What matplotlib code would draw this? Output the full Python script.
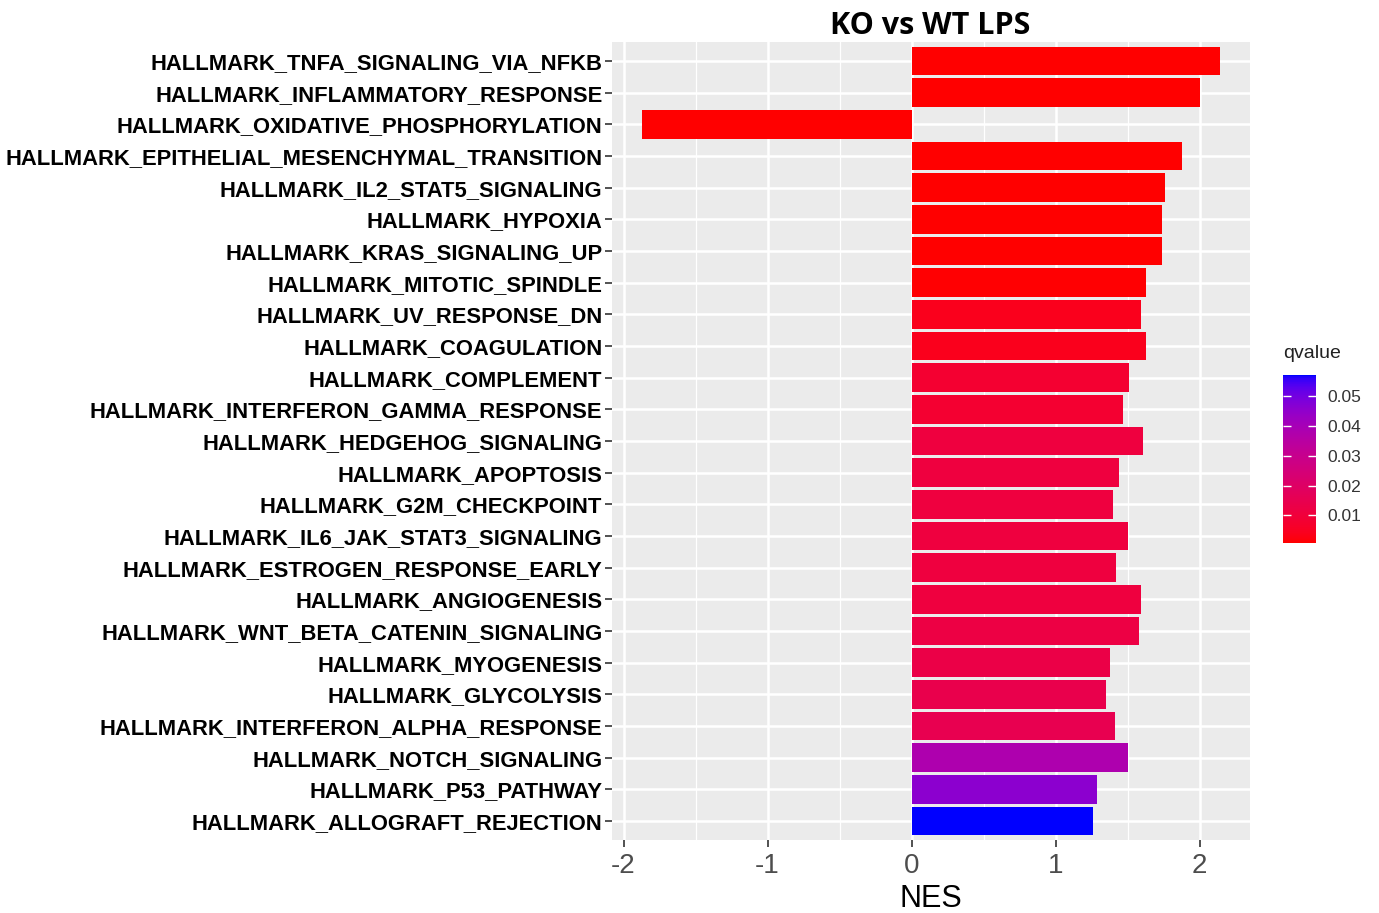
import numpy as np
import matplotlib
matplotlib.use("Agg")
import matplotlib.pyplot as plt
from matplotlib.colors import ListedColormap, Normalize
from matplotlib.cm import ScalarMappable

pathways = [
    "HALLMARK_TNFA_SIGNALING_VIA_NFKB",
    "HALLMARK_INFLAMMATORY_RESPONSE",
    "HALLMARK_OXIDATIVE_PHOSPHORYLATION",
    "HALLMARK_EPITHELIAL_MESENCHYMAL_TRANSITION",
    "HALLMARK_IL2_STAT5_SIGNALING",
    "HALLMARK_HYPOXIA",
    "HALLMARK_KRAS_SIGNALING_UP",
    "HALLMARK_MITOTIC_SPINDLE",
    "HALLMARK_UV_RESPONSE_DN",
    "HALLMARK_COAGULATION",
    "HALLMARK_COMPLEMENT",
    "HALLMARK_INTERFERON_GAMMA_RESPONSE",
    "HALLMARK_HEDGEHOG_SIGNALING",
    "HALLMARK_APOPTOSIS",
    "HALLMARK_G2M_CHECKPOINT",
    "HALLMARK_IL6_JAK_STAT3_SIGNALING",
    "HALLMARK_ESTROGEN_RESPONSE_EARLY",
    "HALLMARK_ANGIOGENESIS",
    "HALLMARK_WNT_BETA_CATENIN_SIGNALING",
    "HALLMARK_MYOGENESIS",
    "HALLMARK_GLYCOLYSIS",
    "HALLMARK_INTERFERON_ALPHA_RESPONSE",
    "HALLMARK_NOTCH_SIGNALING",
    "HALLMARK_P53_PATHWAY",
    "HALLMARK_ALLOGRAFT_REJECTION",
]
nes = [2.14, 2.00, -1.87, 1.88, 1.76, 1.74, 1.74, 1.63, 1.59, 1.63,
       1.51, 1.47, 1.61, 1.44, 1.40, 1.50, 1.42, 1.59, 1.58, 1.38,
       1.35, 1.41, 1.50, 1.29, 1.26]
qvalue = [0.0008, 0.0008, 0.0008, 0.0008, 0.0008, 0.0008, 0.0010, 0.0012, 0.004, 0.004,
          0.008, 0.008, 0.011, 0.011, 0.011, 0.011, 0.011, 0.011, 0.012, 0.013,
          0.014, 0.015, 0.038, 0.046, 0.057]
q_ticks = [0.01, 0.02, 0.03, 0.04, 0.05]
x_ticks = [-2, -1, 0, 1, 2]


# --- ggplot-like red->blue gradient interpolated in CIE Lab ---
def srgb_to_lab(rgb):
    rgb = np.asarray(rgb, float)
    lin = np.where(rgb <= 0.04045, rgb / 12.92, ((rgb + 0.055) / 1.055) ** 2.4)
    M = np.array([[0.4124, 0.3576, 0.1805],
                  [0.2126, 0.7152, 0.0722],
                  [0.0193, 0.1192, 0.9505]])
    xyz = M @ lin
    wp = np.array([0.95047, 1.0, 1.08883])
    t = xyz / wp
    f = np.where(t > (6 / 29) ** 3, np.cbrt(t), t / (3 * (6 / 29) ** 2) + 4 / 29)
    return np.array([116 * f[1] - 16, 500 * (f[0] - f[1]), 200 * (f[1] - f[2])])


def lab_to_srgb(lab):
    L, a, b = lab
    fy = (L + 16) / 116
    fx = fy + a / 500
    fz = fy - b / 200
    def finv(f):
        return f ** 3 if f > 6 / 29 else 3 * (6 / 29) ** 2 * (f - 4 / 29)
    wp = np.array([0.95047, 1.0, 1.08883])
    xyz = np.array([finv(fx), finv(fy), finv(fz)]) * wp
    Minv = np.array([[3.2406, -1.5372, -0.4986],
                     [-0.9689, 1.8758, 0.0415],
                     [0.0557, -0.2040, 1.0570]])
    lin = Minv @ xyz
    lin = np.clip(lin, 0, 1)
    rgb = np.where(lin <= 0.0031308, 12.92 * lin, 1.055 * lin ** (1 / 2.4) - 0.055)
    return np.clip(rgb, 0, 1)


lab_lo = srgb_to_lab([1, 0, 0])
lab_hi = srgb_to_lab([0, 0, 1])
cols = [lab_to_srgb(lab_lo + (lab_hi - lab_lo) * t) for t in np.linspace(0, 1, 256)]
cmap = ListedColormap(cols)
norm = Normalize(vmin=min(qvalue), vmax=max(qvalue))

W, H = 1379, 913
fig = plt.figure(figsize=(W / 100, H / 100), dpi=100)
fig.patch.set_facecolor("white")

ax = fig.add_axes([612 / W, 1 - 840 / H, (1250 - 612) / W, (840 - 42) / H])
ax.set_facecolor("#EBEBEB")

n = len(pathways)
ypos = np.arange(n)[::-1] + 1  # first category at top
colors = [cmap(norm(q)) for q in qvalue]
ax.barh(ypos, nes, height=0.9, color=colors, zorder=3)

ax.set_ylim(0.4, n + 0.6)
ax.set_xlim(-2.08, 2.35)
ax.set_yticks(ypos)
ax.set_yticklabels(pathways, fontsize=15.8, fontweight="bold",
                   family="Liberation Sans", color="black")
ax.set_xticks(x_ticks)
ax.set_xticklabels([str(v) for v in x_ticks], fontsize=20,
                   family="Liberation Sans", color="#4D4D4D")
ax.set_xticks([-1.5, -0.5, 0.5, 1.5], minor=True)
ax.grid(which="major", color="white", linewidth=1.8, zorder=0)
ax.grid(which="minor", axis="x", color="white", linewidth=0.9, zorder=0)
ax.tick_params(which="major", length=5, width=1.2, color="#333333", pad=2)
ax.tick_params(axis="x", which="major", pad=4)
ax.tick_params(which="minor", length=0)
for s in ax.spines.values():
    s.set_visible(False)
ax.set_axisbelow(True)
ax.set_xlabel("NES", fontsize=22, family="Liberation Sans", color="black", labelpad=4)

fig.text(930 / W, 1 - 26 / H, "KO vs WT LPS", fontsize=22, fontweight="bold",
         family="Open Sans", ha="center", va="center")

# colorbar
cax = fig.add_axes([1283 / W, 1 - 543 / H, 33 / W, (543 - 375) / H])
sm = ScalarMappable(norm=norm, cmap=cmap)
cb = fig.colorbar(sm, cax=cax)
cb.outline.set_visible(False)
cb.set_ticks(q_ticks)
cb.set_ticklabels([f"{v:.2f}" for v in q_ticks])
cax.tick_params(axis="y", direction="in", length=6, width=1, color="white",
                left=True, right=True, labelsize=12.5, labelcolor="#333333", pad=8)
for lbl in cax.get_yticklabels():
    lbl.set_family("Liberation Sans")
fig.text(1283 / W, 1 - 354 / H, "qvalue", fontsize=14, family="Liberation Sans",
         ha="left", va="center", color="#222222")

fig.savefig("out.png", dpi=100)
